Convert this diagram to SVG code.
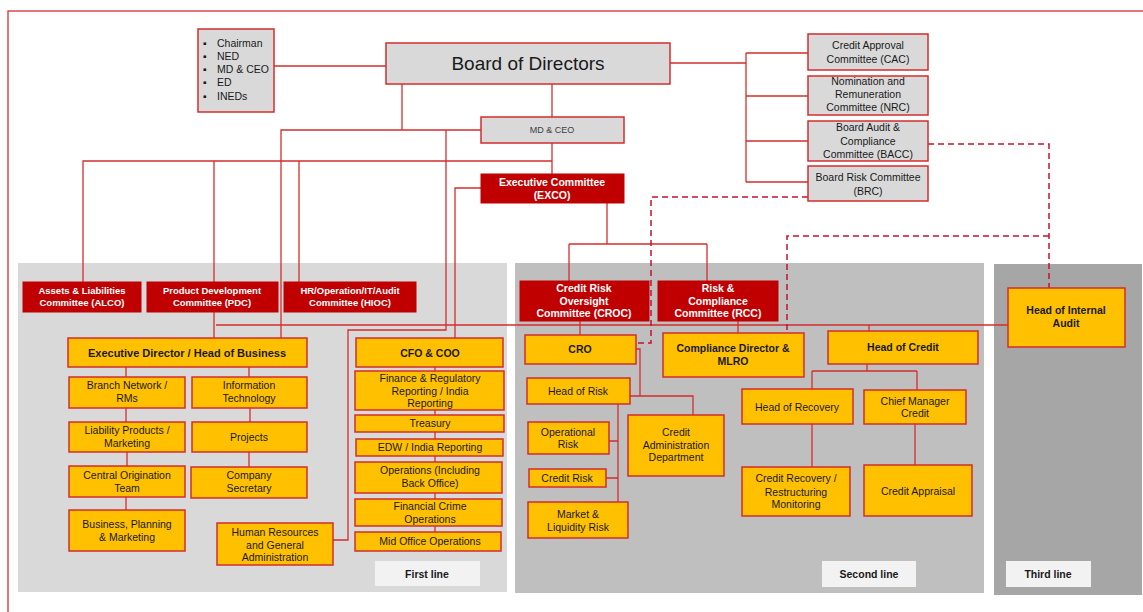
<svg xmlns="http://www.w3.org/2000/svg" width="1143" height="612" viewBox="0 0 1143 612">
<defs>
<style>
text{font-family:"Liberation Sans",Arial,sans-serif;font-size:10.5px;fill:#1a1a1a;text-anchor:middle}
.gray{fill:#d9d9d9;stroke:#d42e2e;stroke-width:1.5}
.red{fill:#c00000;stroke:#c00000;stroke-width:1}
.yel{fill:#ffc000;stroke:#d42e2e;stroke-width:1.5}
.lab{fill:#f2f2f2;stroke:none}
.w{fill:#ffffff;font-weight:bold}
.b{font-weight:bold}
.ln{fill:none;stroke:#d42e2e;stroke-width:1.3}
.dash{fill:none;stroke:#c8102e;stroke-width:1.5;stroke-dasharray:6 4}
.bl{text-anchor:start}
</style>
</defs>
<rect width="1143" height="612" fill="#ffffff"/>
<rect x="8" y="11" width="1200" height="700" fill="none" stroke="#d42e2e" stroke-width="1.3"/>
<g id="panels">
<rect x="18" y="263" width="489" height="329" fill="#d9d9d9"/>
<rect x="515" y="263" width="469" height="330" fill="#bfbfbf"/>
<rect x="994" y="264" width="148" height="331" fill="#a6a6a6"/>
</g>
<g id="connectors">
<path class="ln" d="M274,66 H386"/>
<path class="ln" d="M552,84 V117"/>
<path class="ln" d="M670,63 H746 M746,53 V182 M746,53 H808 M746,96 H808 M746,141 H808 M746,182 H808"/>
<path class="ln" d="M402,84 V130 H281 V338 M402,130 H481"/>
<path class="ln" d="M446,130 V330 H348 V540 H333"/>
<path class="ln" d="M552,143 V174"/>
<path class="ln" d="M552,161 H83 V282 M214,161 V282 M299,161 V282"/>
<path class="ln" d="M214,312 V338"/>
<path class="ln" d="M216,325 H1008"/>
<path class="ln" d="M481,188 H455 V338"/>
<path class="ln" d="M607,203 V244 M569,244 H707 M569,244 V281 M707,244 V281"/>
<path class="ln" d="M580,321 V335 M738,321 V333 M869,325 V331"/>
<path class="ln" d="M126,367 V377 M249,367 V377 M126,408 V422 M127,452 V466 M126,497 V510 M250,408 V422 M249,452 V467"/>
<path class="ln" d="M435,367 V532"/>
<path class="ln" d="M636,349 H640 V396 M630,396 H693 V415"/>
<path class="ln" d="M618,404 V502 M609,441 H618 M606,478 H618"/>
<path class="ln" d="M867,364 V371 M812,371 H917 M812,371 V389 M917,371 V390 M812,424 V467 M915,424 V465"/>
<path class="dash" d="M808,197 H651 V343 H636"/>
<path class="dash" d="M928,144 H1049 V288"/>
<path class="dash" d="M1049,236 H787 V333"/>
</g>
<g id="bullets">
<rect class="gray" x="198" y="29" width="76" height="83"/>
<text class="bl" x="203" y="47">▪</text><text class="bl" x="217" y="47">Chairman</text>
<text class="bl" x="203" y="60">▪</text><text class="bl" x="217" y="60">NED</text>
<text class="bl" x="203" y="73">▪</text><text class="bl" x="217" y="73">MD &amp; CEO</text>
<text class="bl" x="203" y="86">▪</text><text class="bl" x="217" y="86">ED</text>
<text class="bl" x="203" y="100">▪</text><text class="bl" x="217" y="100">INEDs</text>
</g>
<g id="board"><rect class="gray" x="386" y="43" width="284" height="41"/><text x="528" y="70" style="font-size:19px">Board of Directors</text></g>
<g id="mdceo"><rect class="gray" x="481" y="117" width="143" height="26"/><text x="552" y="133" style="font-size:9px;fill:#404040">MD &amp; CEO</text></g>
<g id="exco"><rect class="red" x="481" y="174" width="143" height="29"/><text class="w" x="552" y="186">Executive Committee</text><text class="w" x="552" y="199">(EXCO)</text></g>
<g id="cac"><rect class="gray" x="808" y="34" width="120" height="36"/><text x="868" y="49">Credit Approval</text><text x="868" y="63">Committee (CAC)</text></g>
<g id="nrc"><rect class="gray" x="808" y="76" width="120" height="39"/><text x="868" y="85">Nomination and</text><text x="868" y="98">Remuneration</text><text x="868" y="111">Committee (NRC)</text></g>
<g id="bacc"><rect class="gray" x="808" y="121" width="120" height="40"/><text x="868" y="131">Board Audit &amp;</text><text x="868" y="145">Compliance</text><text x="868" y="158">Committee (BACC)</text></g>
<g id="brc"><rect class="gray" x="808" y="166" width="120" height="35"/><text x="868" y="181">Board Risk Committee</text><text x="868" y="195">(BRC)</text></g>
<g id="alco"><rect class="red" x="23" y="282" width="118" height="30"/><text class="w" x="82" y="294" style="font-size:9.5px">Assets &amp; Liabilities</text><text class="w" x="82" y="306" style="font-size:9.5px">Committee (ALCO)</text></g>
<g id="pdc"><rect class="red" x="147" y="282" width="131" height="30"/><text class="w" x="212" y="294" style="font-size:9.5px">Product Development</text><text class="w" x="212" y="306" style="font-size:9.5px">Committee (PDC)</text></g>
<g id="hioc"><rect class="red" x="284" y="282" width="132" height="30"/><text class="w" x="350" y="294" style="font-size:9.5px">HR/Operation/IT/Audit</text><text class="w" x="350" y="306" style="font-size:9.5px">Committee (HIOC)</text></g>
<g id="croc"><rect class="red" x="520" y="281" width="129" height="40"/><text class="w" x="584" y="292">Credit Risk</text><text class="w" x="584" y="305">Oversight</text><text class="w" x="584" y="317">Committee (CROC)</text></g>
<g id="rcc"><rect class="red" x="658" y="281" width="120" height="40"/><text class="w" x="718" y="292">Risk &amp;</text><text class="w" x="718" y="305">Compliance</text><text class="w" x="718" y="317">Committee (RCC)</text></g>
<g id="ed"><rect class="yel" x="68" y="338" width="239" height="29"/><text class="b" x="187" y="357" style="font-size:11px">Executive Director / Head of Business</text></g>
<g id="branch"><rect class="yel" x="69" y="377" width="116" height="31"/><text x="127" y="389">Branch Network /</text><text x="127" y="402">RMs</text></g>
<g id="it"><rect class="yel" x="192" y="377" width="115" height="31"/><text x="249" y="389">Information</text><text x="249" y="402">Technology</text></g>
<g id="liab"><rect class="yel" x="69" y="422" width="116" height="30"/><text x="127" y="434">Liability Products /</text><text x="127" y="447">Marketing</text></g>
<g id="projects"><rect class="yel" x="192" y="422" width="115" height="30"/><text x="249" y="441">Projects</text></g>
<g id="central"><rect class="yel" x="69" y="466" width="116" height="31"/><text x="127" y="479">Central Origination</text><text x="127" y="492">Team</text></g>
<g id="cosec"><rect class="yel" x="191" y="467" width="116" height="31"/><text x="249" y="479">Company</text><text x="249" y="492">Secretary</text></g>
<g id="bpm"><rect class="yel" x="69" y="510" width="116" height="41"/><text x="127" y="528">Business, Planning</text><text x="127" y="541">&amp; Marketing</text></g>
<g id="hr"><rect class="yel" x="217" y="523" width="116" height="42"/><text x="275" y="536">Human Resources</text><text x="275" y="549">and General</text><text x="275" y="561">Administration</text></g>
<g id="cfo"><rect class="yel" x="356" y="338" width="147" height="29"/><text class="b" x="430" y="357" style="font-size:10.5px">CFO &amp; COO</text></g>
<g id="finance"><rect class="yel" x="355" y="371" width="149" height="39"/><text x="430" y="382">Finance &amp; Regulatory</text><text x="430" y="395">Reporting / India</text><text x="430" y="407">Reporting</text></g>
<g id="treasury"><rect class="yel" x="355" y="415" width="149" height="17"/><text x="430" y="427">Treasury</text></g>
<g id="edw"><rect class="yel" x="356" y="439" width="147" height="17"/><text x="430" y="451">EDW / India Reporting</text></g>
<g id="ops"><rect class="yel" x="355" y="462" width="147" height="31"/><text x="430" y="474">Operations (Including</text><text x="430" y="487">Back Office)</text></g>
<g id="fincrime"><rect class="yel" x="355" y="499" width="147" height="27"/><text x="430" y="510">Financial Crime</text><text x="430" y="523">Operations</text></g>
<g id="midoffice"><rect class="yel" x="355" y="532" width="146" height="19"/><text x="430" y="545">Mid Office Operations</text></g>
<g id="firstline"><rect class="lab" x="375" y="561" width="105" height="25"/><text class="b" x="427" y="578">First line</text></g>
<g id="cro"><rect class="yel" x="525" y="335" width="111" height="29"/><text class="b" x="580" y="353">CRO</text></g>
<g id="compliance"><rect class="yel" x="663" y="333" width="141" height="44"/><text class="b" x="733" y="352">Compliance Director &amp;</text><text class="b" x="733" y="365">MLRO</text></g>
<g id="headrisk"><rect class="yel" x="527" y="378" width="103" height="26"/><text x="578" y="395">Head of Risk</text></g>
<g id="oprisk"><rect class="yel" x="528" y="422" width="81" height="32"/><text x="568" y="436">Operational</text><text x="568" y="448">Risk</text></g>
<g id="creditrisk"><rect class="yel" x="529" y="469" width="77" height="18"/><text x="567" y="482">Credit Risk</text></g>
<g id="market"><rect class="yel" x="528" y="502" width="100" height="36"/><text x="578" y="518">Market &amp;</text><text x="578" y="531">Liquidity Risk</text></g>
<g id="creditadmin"><rect class="yel" x="628" y="415" width="96" height="61"/><text x="676" y="436">Credit</text><text x="676" y="449">Administration</text><text x="676" y="461">Department</text></g>
<g id="headcredit"><rect class="yel" x="828" y="331" width="150" height="33"/><text class="b" x="903" y="351">Head of Credit</text></g>
<g id="headrecovery"><rect class="yel" x="742" y="389" width="111" height="35"/><text x="797" y="411">Head of Recovery</text></g>
<g id="chiefmgr"><rect class="yel" x="864" y="390" width="102" height="34"/><text x="915" y="405">Chief Manager</text><text x="915" y="417">Credit</text></g>
<g id="recoverymon"><rect class="yel" x="742" y="467" width="108" height="49"/><text x="796" y="482">Credit Recovery /</text><text x="796" y="496">Restructuring</text><text x="796" y="508">Monitoring</text></g>
<g id="appraisal"><rect class="yel" x="864" y="465" width="108" height="51"/><text x="918" y="495">Credit Appraisal</text></g>
<g id="secondline"><rect class="lab" x="822" y="561" width="94" height="26"/><text class="b" x="869" y="578">Second line</text></g>
<g id="internalaudit"><rect class="yel" x="1008" y="288" width="117" height="59"/><text class="b" x="1066" y="314">Head of Internal</text><text class="b" x="1066" y="327">Audit</text></g>
<g id="thirdline"><rect class="lab" x="1006" y="561" width="85" height="26"/><text class="b" x="1048" y="578">Third line</text></g>
</svg>
